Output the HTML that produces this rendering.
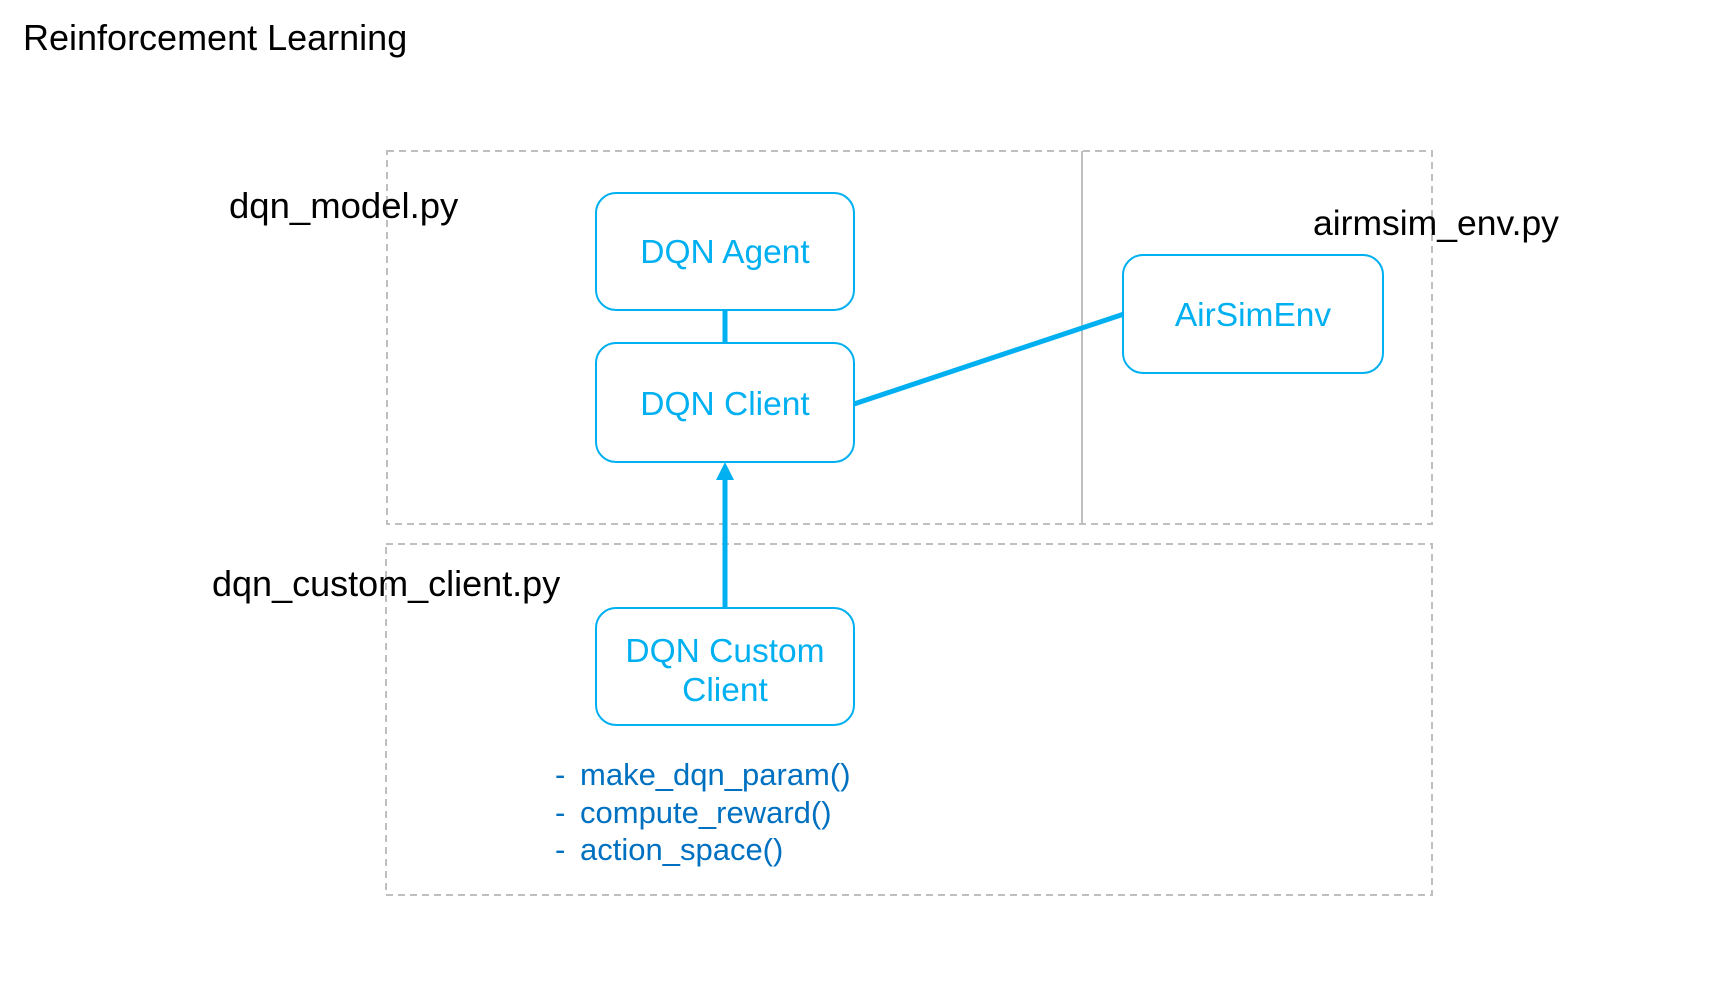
<!DOCTYPE html>
<html><head><meta charset="utf-8"><style>
html,body{margin:0;padding:0;background:#fff;}
svg{display:block;}
text{font-family:"Liberation Sans","Noto Sans CJK KR",sans-serif;}
</style></head><body>
<svg width="1724" height="998" viewBox="0 0 1724 998" xmlns="http://www.w3.org/2000/svg">
<text x="23" y="50" font-size="36" fill="#000">Reinforcement Learning</text>
<rect x="387" y="151" width="1045" height="373" fill="none" stroke="#bfbfbf" stroke-width="2" stroke-dasharray="7,5"/>
<line x1="1082" y1="151" x2="1082" y2="524" stroke="#bfbfbf" stroke-width="2"/>
<rect x="386" y="544" width="1046" height="351" fill="none" stroke="#bfbfbf" stroke-width="2" stroke-dasharray="7,5"/>
<text x="229" y="218" font-size="36.5" fill="#000">dqn_model.py</text>
<text x="1313" y="235" font-size="35.5" fill="#000">airmsim_env.py</text>
<text x="212" y="596" font-size="36" fill="#000">dqn_custom_client.py</text>
<line x1="725" y1="309" x2="725" y2="343" stroke="#00b0f0" stroke-width="5"/>
<line x1="854" y1="404" x2="1124" y2="314" stroke="#00b0f0" stroke-width="5"/>
<line x1="725" y1="607" x2="725" y2="478" stroke="#00b0f0" stroke-width="5"/>
<polygon points="725,462 716,480 734,480" fill="#00b0f0"/>
<rect x="596" y="193" width="258" height="117" rx="20" fill="#fff" stroke="#00b0f0" stroke-width="2"/>
<rect x="596" y="343" width="258" height="119" rx="20" fill="#fff" stroke="#00b0f0" stroke-width="2"/>
<rect x="1123" y="255" width="260" height="118" rx="20" fill="#fff" stroke="#00b0f0" stroke-width="2"/>
<rect x="596" y="608" width="258" height="117" rx="20" fill="#fff" stroke="#00b0f0" stroke-width="2"/>
<g font-size="33.5" fill="#00b0f0" text-anchor="middle">
<text x="725" y="263">DQN Agent</text>
<text x="725" y="415">DQN Client</text>
<text x="1253" y="326">AirSimEnv</text>
<text x="725" y="662">DQN Custom</text>
<text x="725" y="701">Client</text>
</g>
<g font-size="31" fill="#0070c0">
<text x="555" y="785">-</text><text x="580" y="785">make_dqn_param()</text>
<text x="555" y="823">-</text><text x="580" y="823">compute_reward()</text>
<text x="555" y="860">-</text><text x="580" y="860">action_space()</text>
</g>
</svg>
</body></html>
